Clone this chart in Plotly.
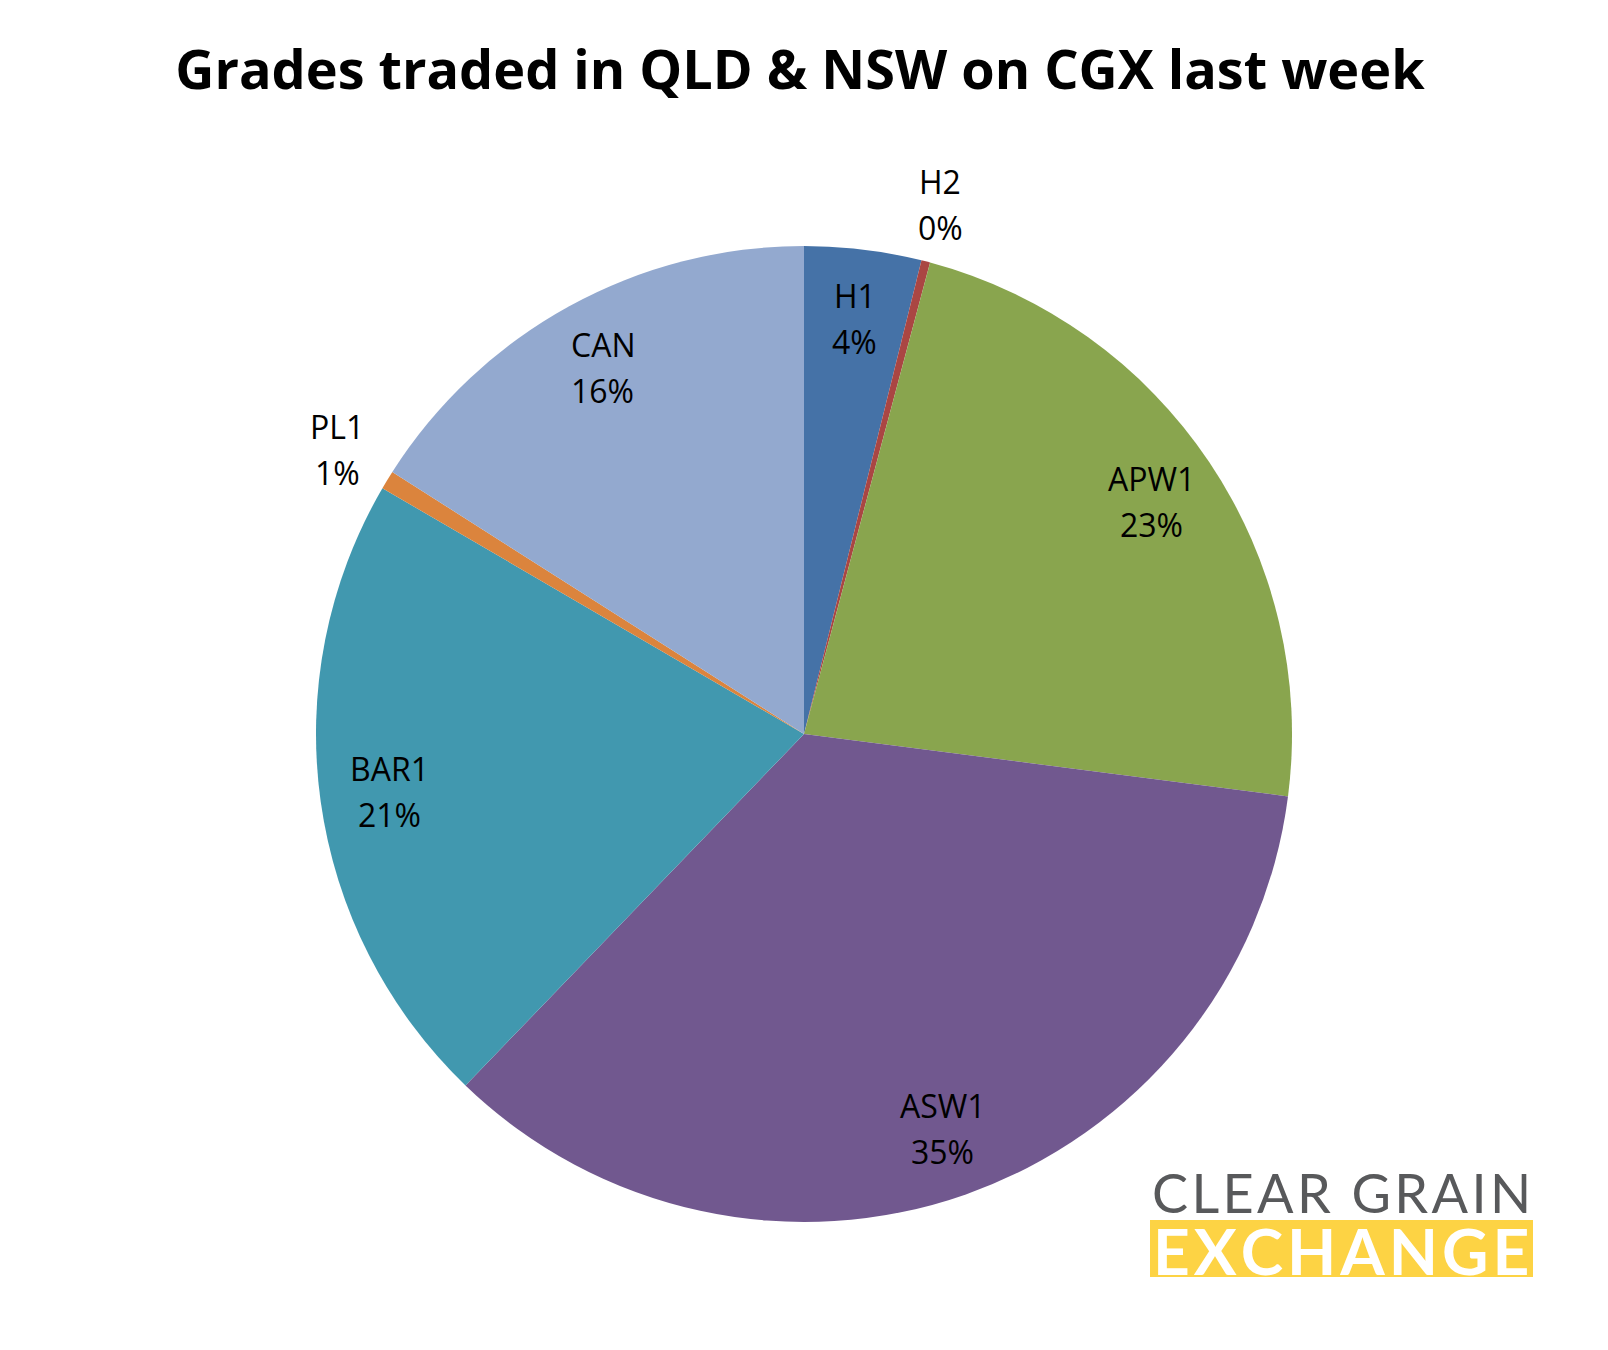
import math
import plotly.graph_objects as go

# ---- data ----
grades = ["H1", "H2", "APW1", "ASW1", "BAR1", "PL1", "CAN"]
shares = [3.87, 0.29, 22.88, 35.16, 21.20, 0.62, 15.98]
colors = ["#4572A7", "#AA4643", "#89A54E", "#71588F", "#4198AF", "#DB843D", "#93A9CF"]
outside_labels = ["H2", "PL1"]
title_text = "Grades traded in QLD &amp; NSW on CGX last week"

# ---- layout constants (page pixels; the page body has an 8px margin) ----
OFF = 8
W, H = 1608 - 2 * OFF, 1350 - 2 * OFF
CX, CY, R = 804, 734, 488
FONT = "Open Sans"
HS = "\u200a"


def px_x(x):
    return (x - OFF) / W


def px_y(y):
    return 1 - (y - OFF) / H


fig = go.Figure()
fig.add_trace(go.Pie(
    labels=grades,
    values=shares,
    sort=False,
    direction="clockwise",
    rotation=0,
    marker=dict(colors=colors, line=dict(width=0)),
    textinfo="none",
    showlegend=False,
    domain=dict(x=[px_x(CX - R), px_x(CX + R)], y=[px_y(CY + R), px_y(CY - R)]),
))

annotations = []
total = sum(shares)
cum = 0.0
for g, v in zip(grades, shares):
    mid = (cum + v / 2) / total * 2 * math.pi
    cum += v
    rf = 1.12 if g in outside_labels else 0.857
    px = CX + rf * R * math.sin(mid)
    py = CY - rf * R * math.cos(mid)
    pct = f"{round(v / total * 100)}%"
    for txt, shift in ((g, 23), (pct, -23)):
        annotations.append(dict(
            x=px_x(px), y=px_y(py), xref="paper", yref="paper",
            text=txt, showarrow=False, yshift=shift,
            xanchor="center", yanchor="middle",
            font=dict(family=FONT, size=32, color="#000000"),
        ))

# logo
annotations.append(dict(
    x=px_x(1341), y=px_y(1192), xref="paper", yref="paper",
    text=HS.join("CLEAR GRAIN"), showarrow=False, xanchor="center", yanchor="middle",
    font=dict(family="Lato", size=54, color="#58595B"),
))
annotations.append(dict(
    x=px_x(1341), y=px_y(1250), xref="paper", yref="paper",
    text=HS.join("EXCHANGE"), showarrow=False,
    xanchor="center", yanchor="middle",
    font=dict(family="Lato", size=64, color="#FFFFFF", weight="bold"),
))

fig.update_layout(
    width=W, height=H,
    margin=dict(l=0, r=0, t=0, b=0),
    paper_bgcolor="#FFFFFF",
    plot_bgcolor="#FFFFFF",
    title=dict(text=title_text, x=px_x(800), xanchor="center", y=px_y(70), yanchor="middle",
               font=dict(family=FONT, size=54, color="#000000", weight="bold")),
    annotations=annotations,
    shapes=[dict(type="rect", xref="paper", yref="paper",
                 x0=px_x(1150), x1=px_x(1533), y0=px_y(1277), y1=px_y(1220),
                 fillcolor="#FDD344", line=dict(width=0), layer="below")],
)

fig.write_html("out.html")
